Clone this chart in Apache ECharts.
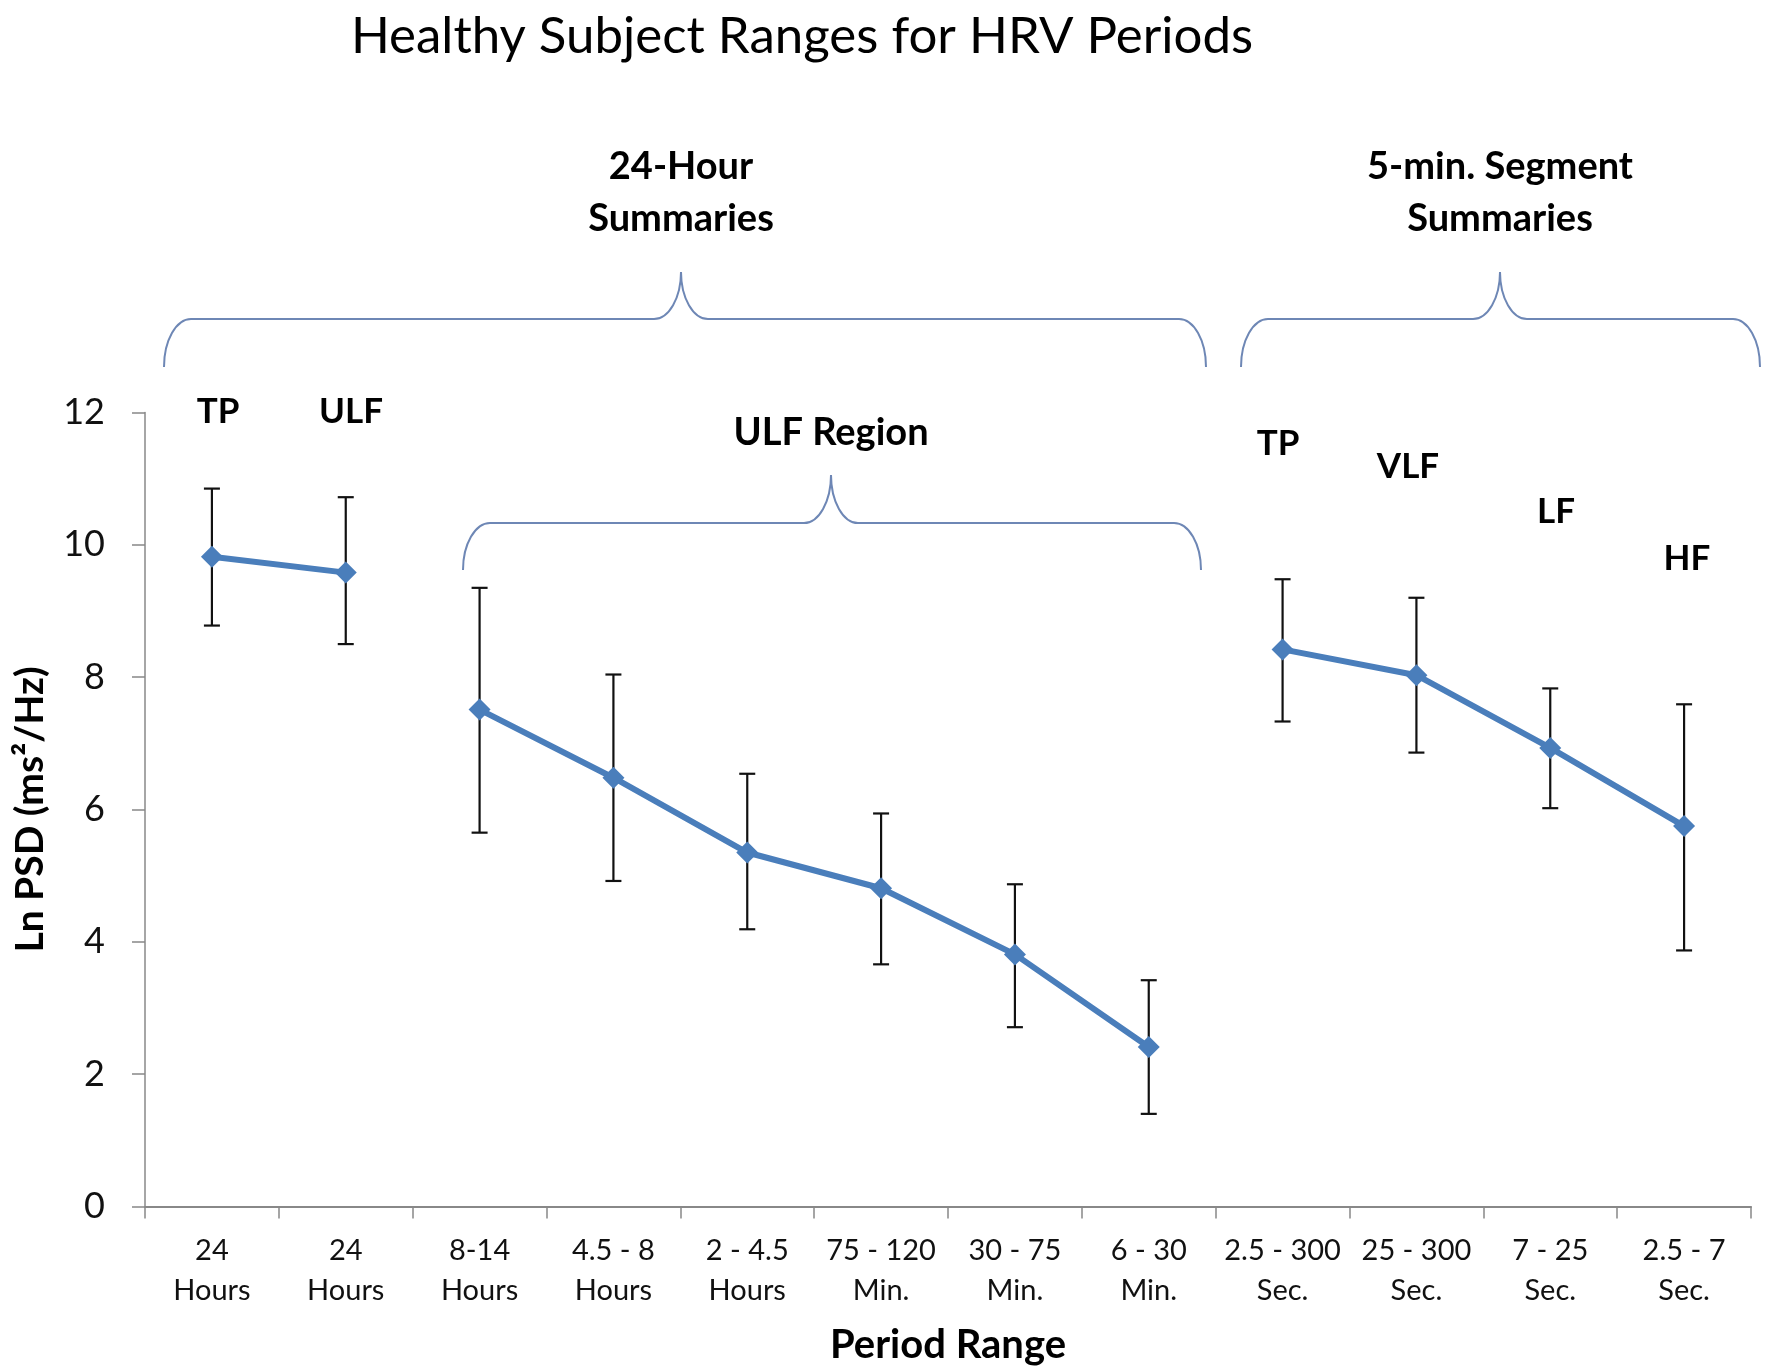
<!DOCTYPE html>
<html>
<head>
<meta charset="utf-8">
<script src="https://cdn.jsdelivr.net/npm/echarts@6/dist/echarts.min.js"></script>
<style>
html,body{margin:0;padding:0;background:#fff;}
#chart{width:1772px;height:1371px;}
</style>
</head>
<body>
<div id="chart"></div>
<script>
// ---- data ----
const categories = ['24\nHours','24\nHours','8-14\nHours','4.5 - 8\nHours','2 - 4.5\nHours','75 - 120\nMin.','30 - 75\nMin.','6 - 30\nMin.','2.5 - 300\nSec.','25 - 300\nSec.','7 - 25\nSec.','2.5 - 7\nSec.'];
const meanValues  = [9.82, 9.58, 7.51, 6.48, 5.35, 4.81, 3.81, 2.41, 8.42, 8.03, 6.93, 5.75];
const upperValues = [10.85, 10.72, 9.35, 8.04, 6.54, 5.94, 4.87, 3.42, 9.48, 9.20, 7.83, 7.59];
const lowerValues = [8.78, 8.50, 5.65, 4.92, 4.19, 3.66, 2.71, 1.40, 7.33, 6.86, 6.02, 3.87];
const segmentGroups = [[0, 1], [2, 7], [8, 11]]; // index ranges joined by a line
const yMin = 0, yMax = 12, yStep = 2;
const titleText = 'Healthy Subject Ranges for HRV Periods';
const yAxisName = 'Ln PSD (ms\u00B2/Hz)';
const xAxisName = 'Period Range';

const FONT = 'Lato';
const BLUE = '#4A7EBB';
const BRACE = '#6E87B5';

const chart = echarts.init(document.getElementById('chart'));

const lineSeries = segmentGroups.map(function (g) {
  return {
    type: 'line',
    z: 5,
    data: meanValues.map(function (v, i) { return (i >= g[0] && i <= g[1]) ? v : '-'; }),
    symbol: 'diamond',
    symbolSize: 22,
    itemStyle: { color: BLUE },
    lineStyle: { color: BLUE, width: 6 },
    connectNulls: false,
    animation: false
  };
});

const errorSeries = {
  type: 'custom',
  z: 3,
  data: categories.map(function (c, i) { return [i, lowerValues[i], upperValues[i]]; }),
  renderItem: function (params, api) {
    const lo = api.coord([api.value(0), api.value(1)]);
    const hi = api.coord([api.value(0), api.value(2)]);
    const hw = 8;
    const st = { stroke: '#111', lineWidth: 2.2 };
    return {
      type: 'group',
      children: [
        { type: 'line', shape: { x1: hi[0], y1: hi[1], x2: lo[0], y2: lo[1] }, style: st },
        { type: 'line', shape: { x1: hi[0] - hw, y1: hi[1], x2: hi[0] + hw, y2: hi[1] }, style: st },
        { type: 'line', shape: { x1: lo[0] - hw, y1: lo[1], x2: lo[0] + hw, y2: lo[1] }, style: st }
      ]
    };
  },
  encode: { x: 0, y: [1, 2] },
  animation: false
};

// brace built from line + bezier pieces
function brace(x0, x1, cx, yEnd, yLine, yPeak) {
  const r = 27, k = 0.55;
  const ry = yEnd - yLine, rp = yLine - yPeak;
  const st = { stroke: BRACE, lineWidth: 2, fill: null };
  function bz(a) {
    return { type: 'bezierCurve', shape: { x1: a[0], y1: a[1], cpx1: a[2], cpy1: a[3], cpx2: a[4], cpy2: a[5], x2: a[6], y2: a[7] }, style: st };
  }
  function ln(a, b, c, d) { return { type: 'line', shape: { x1: a, y1: b, x2: c, y2: d }, style: st }; }
  return [
    bz([x0, yEnd, x0, yEnd - k * ry, x0 + r - k * r, yLine, x0 + r, yLine]),
    ln(x0 + r, yLine, cx - r, yLine),
    bz([cx - r, yLine, cx - r + k * r, yLine, cx, yPeak + k * rp, cx, yPeak]),
    bz([cx, yPeak, cx, yPeak + k * rp, cx + r - k * r, yLine, cx + r, yLine]),
    ln(cx + r, yLine, x1 - r, yLine),
    bz([x1 - r, yLine, x1 - r + k * r, yLine, x1, yEnd - k * ry, x1, yEnd])
  ];
}

function boldText(x, y, txt, size) {
  return {
    type: 'text', x: x, y: y,
    style: { text: txt, font: 'bold ' + (size || 32) + 'px ' + FONT, fill: '#000', align: 'center', verticalAlign: 'middle', lineHeight: 52 }
  };
}

const graphics = []
  .concat(brace(164, 1206, 681, 367, 319, 272))
  .concat(brace(1241, 1760, 1500, 367, 319, 272))
  .concat(brace(463, 1201, 831, 570, 523, 475))
  .concat([
    boldText(681, 193, '24-Hour\nSummaries', 38),
    boldText(1500, 193, '5-min. Segment\nSummaries', 38),
    boldText(831, 433, 'ULF Region', 38),
    boldText(218, 412, 'TP', 35),
    boldText(351, 412, 'ULF', 35),
    boldText(1278, 444, 'TP', 35),
    boldText(1408, 467, 'VLF', 35),
    boldText(1556, 512, 'LF', 35),
    boldText(1687, 559, 'HF', 35)
  ]);

const option = {
  backgroundColor: '#fff',
  animation: false,
  title: {
    text: titleText,
    left: 797, top: 6,
    textAlign: 'center',
    textStyle: { fontFamily: FONT, fontWeight: 'normal', fontSize: 51, color: '#000' }
  },
  grid: { left: 145, right: 21, top: 412.5, bottom: 164.5, containLabel: false },
  xAxis: {
    type: 'category',
    data: categories,
    boundaryGap: true,
    name: xAxisName,
    nameLocation: 'middle',
    nameGap: 139,
    nameTextStyle: { fontFamily: FONT, fontWeight: 'bold', fontSize: 40, color: '#000', verticalAlign: 'middle' },
    axisLine: { lineStyle: { color: '#888', width: 2 } },
    axisTick: { show: true, length: 12, alignWithLabel: false, lineStyle: { color: '#888', width: 1.5 } },
    axisLabel: { interval: 0, margin: 24, fontFamily: FONT, fontSize: 29, color: '#111', lineHeight: 40 },
    splitLine: { show: false }
  },
  yAxis: {
    type: 'value',
    min: yMin, max: yMax, interval: yStep,
    name: yAxisName,
    nameLocation: 'middle',
    nameGap: 115,
    nameRotate: 90,
    nameTextStyle: { fontFamily: FONT, fontWeight: 'bold', fontSize: 39, color: '#000', verticalAlign: 'middle' },
    axisLine: { show: true, lineStyle: { color: '#888', width: 1.5 } },
    axisTick: { show: true, length: 13, lineStyle: { color: '#888', width: 1.5 } },
    axisLabel: { margin: 40, fontFamily: FONT, fontSize: 36, color: '#111' },
    splitLine: { show: false }
  },
  series: [errorSeries].concat(lineSeries),
  graphic: graphics
};

chart.setOption(option);
</script>
</body>
</html>
